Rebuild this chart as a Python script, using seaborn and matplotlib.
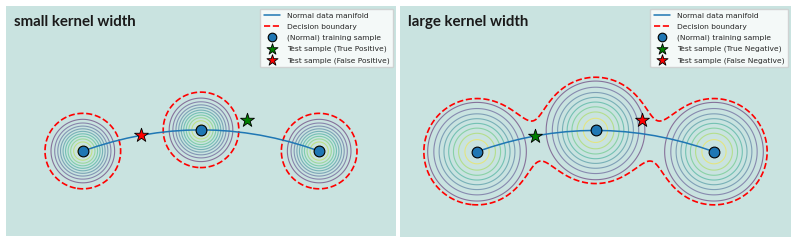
import numpy as np
import matplotlib
matplotlib.use("Agg")
import matplotlib.pyplot as plt
from matplotlib.lines import Line2D
import seaborn as sns

sns.set_style("white")

# training samples lying on the normal data manifold
train_x = [-2.0, 0.0, 2.0]
train_y = [-0.36, 0.0, -0.36]

# manifold curve
manifold_x = [-2.0, -1.75, -1.5, -1.25, -1.0, -0.75, -0.5, -0.25, 0.0,
              0.25, 0.5, 0.75, 1.0, 1.25, 1.5, 1.75, 2.0]
manifold_y = [-0.36, -0.276, -0.203, -0.141, -0.09, -0.051, -0.023, -0.006, 0.0,
              -0.006, -0.023, -0.051, -0.09, -0.141, -0.203, -0.276, -0.36]

# test samples (same positions in both panels)
test_a = (-1.02, -0.09)   # on manifold between samples
test_b = (0.78, 0.17)     # just off manifold near the middle

panels = ["small kernel width", "large kernel width"]
kernel_width = [0.30, 0.50]
threshold = [0.103, 0.20]
ring_levels = [(0.20, 0.96, 10), (0.25, 0.92, 8)]
green_labels = ["Test sample (True Positive)", "Test sample (True Negative)"]
red_labels = ["Test sample (False Positive)", "Test sample (False Negative)"]
green_pts = [test_b, test_a]
red_pts = [test_a, test_b]

bg = "#c9e3e0"
fig = plt.figure(figsize=(7.97, 2.43), dpi=100)
rects = [[6 / 797, 7 / 243, 390 / 797, 230 / 243],
         [400 / 797, 6 / 243, 391 / 797, 231 / 243]]

xs = np.linspace(-3.3, 3.3, 500)
ys = np.linspace(-1.8, 2.1, 300)
X, Y = np.meshgrid(xs, ys)

for i in range(2):
    ax = fig.add_axes(rects[i])
    ax.set_facecolor(bg)
    s = kernel_width[i]
    total = np.zeros_like(X)
    lv = np.linspace(*ring_levels[i])
    for cx, cy in zip(train_x, train_y):
        g = np.exp(-((X - cx) ** 2 + (Y - cy) ** 2) / (2 * s ** 2))
        total += g
        ax.contour(X, Y, g, levels=lv, cmap="viridis", alpha=0.5, linewidths=0.8)
    ax.contour(X, Y, total, levels=[threshold[i]], colors="red",
               linestyles="--", linewidths=1.2)

    sns.lineplot(x=manifold_x, y=manifold_y, ax=ax, color="tab:blue", lw=1.1,
                 sort=False, label="Normal data manifold")
    sns.scatterplot(x=train_x, y=train_y, ax=ax, color="tab:blue", s=60,
                    edgecolor="black", linewidth=0.8, zorder=5,
                    label="(Normal) training sample")
    sns.scatterplot(x=[green_pts[i][0]], y=[green_pts[i][1]], ax=ax, marker="*",
                    color="green", s=110, edgecolor="black", linewidth=0.6,
                    zorder=6, label=green_labels[i])
    sns.scatterplot(x=[red_pts[i][0]], y=[red_pts[i][1]], ax=ax, marker="*",
                    color="red", s=110, edgecolor="black", linewidth=0.6,
                    zorder=6, label=red_labels[i])

    handles, labels = ax.get_legend_handles_labels()
    boundary = Line2D([], [], color="red", ls="--", lw=1.2)
    handles = [handles[0], boundary] + handles[1:]
    labels = [labels[0], "Decision boundary"] + labels[1:]
    ax.legend(handles, labels, loc="upper right", fontsize=5.4,
              framealpha=0.8, borderpad=0.5, labelspacing=0.62,
              handlelength=2.2, handletextpad=0.9, borderaxespad=0.35,
              markerscale=0.8)

    ax.set_xlim(-3.3, 3.3)
    ax.set_ylim(-1.8, 2.1)
    ax.set_xticks([])
    ax.set_yticks([])
    for sp in ax.spines.values():
        sp.set_visible(False)
    ax.text(0.02, 0.93, panels[i], transform=ax.transAxes, fontsize=10.8,
            fontweight="bold", family="Lato", color="#1a1a1a", va="center")

fig.savefig("out.png", dpi=100)
